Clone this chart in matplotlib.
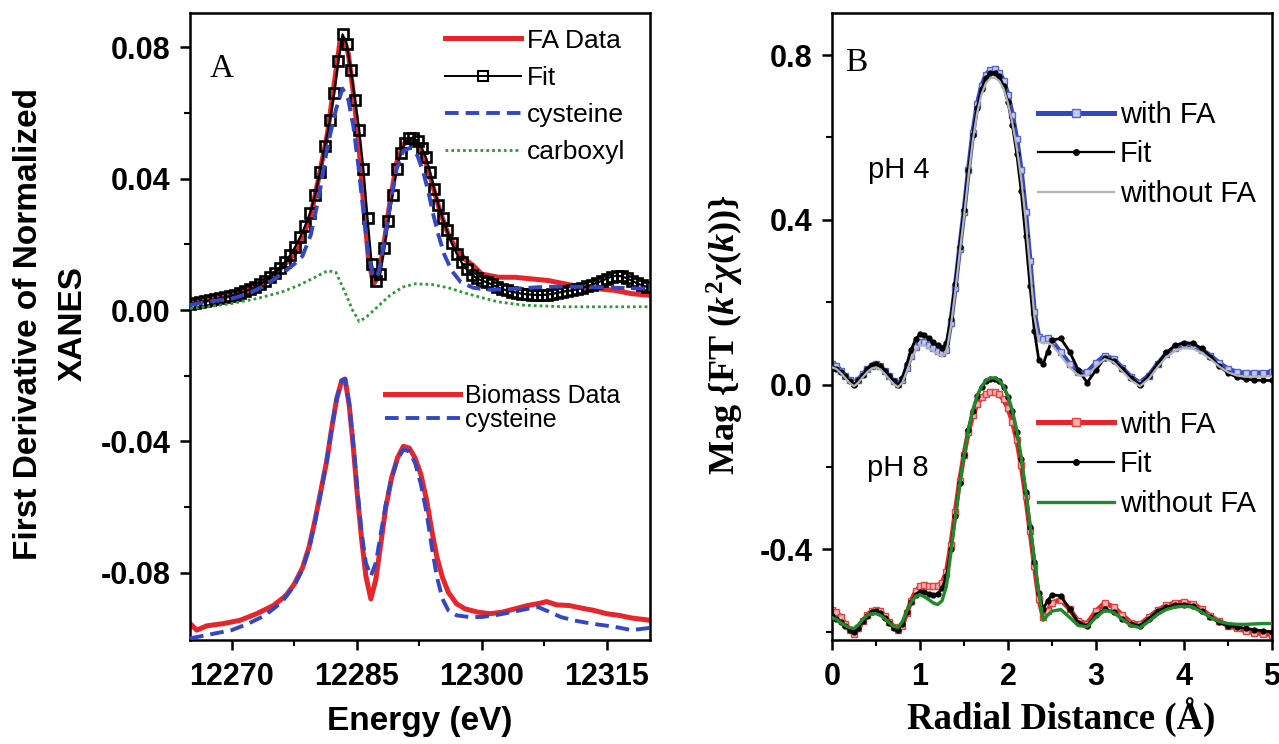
import matplotlib
matplotlib.use('Agg')
import matplotlib.pyplot as plt
from matplotlib.lines import Line2D

plt.rcParams['font.family'] = ['Liberation Sans', 'DejaVu Sans']
plt.rcParams['mathtext.fontset'] = 'custom'
plt.rcParams['mathtext.rm'] = 'Liberation Serif:bold'
plt.rcParams['mathtext.it'] = 'Liberation Serif:italic:bold'
plt.rcParams['mathtext.bf'] = 'Liberation Serif:bold'

# ---------------- panel A : XANES first derivative ----------------
fa_x = [12265.0, 12267, 12270, 12272, 12274, 12276, 12277.5, 12278.5, 12279.5, 12280.5,
        12281.5, 12282.3, 12283.0, 12283.5, 12284.0, 12284.6, 12285.2, 12285.8, 12286.4,
        12287.0, 12287.6, 12288.2, 12289.0, 12289.8, 12290.6, 12291.5, 12292.4, 12293.2,
        12294.0, 12295.0, 12296.0, 12297.0, 12298.0, 12299.0, 12300.0, 12302.0, 12304.0,
        12306.0, 12308.0, 12310.0, 12312.0, 12314.0, 12316.0, 12318.0, 12320.2]
fa_y = [.0020, .0030, .0045, .0060, .0085, .0130, .0170, .0220, .0290, .0410,
        .0540, .0690, .0820, .0825, .0780, .0660, .0520, .0330, .0160,
        .0080, .0100, .0190, .0330, .0450, .0505, .0520, .0505, .0460,
        .0390, .0300, .0230, .0185, .0155, .0135, .0110, .0100, .0100,
        .0095, .0090, .0080, .0070, .0065, .0060, .0050, .0045]

fit_x = [12265.0, 12265.6, 12266.2, 12266.8, 12267.4, 12268.0, 12268.6, 12269.2, 12269.8,
         12270.4, 12271.0, 12271.6, 12272.2, 12272.8, 12273.4, 12274.0, 12274.6, 12275.2,
         12275.8, 12276.4, 12277.0, 12277.6, 12278.2, 12278.8, 12279.4, 12280.0, 12280.6,
         12281.2, 12281.8, 12282.3, 12282.8, 12283.3, 12283.8, 12284.3, 12284.8, 12285.3,
         12285.8, 12286.3, 12286.8, 12287.3, 12287.8, 12288.3, 12288.8, 12289.3, 12289.8,
         12290.3, 12290.8, 12291.3, 12291.8, 12292.3, 12292.8, 12293.3, 12293.8, 12294.3,
         12294.8, 12295.3, 12295.8, 12296.4, 12297.0, 12297.6, 12298.2, 12298.8, 12299.4,
         12300.0, 12300.6, 12301.2, 12301.8, 12302.4, 12303.0, 12303.6, 12304.2, 12304.8,
         12305.4, 12306.0, 12306.6, 12307.2, 12307.8, 12308.4, 12309.0, 12309.6, 12310.2,
         12310.8, 12311.4, 12312.0, 12312.6, 12313.2, 12313.8, 12314.4, 12315.0, 12315.6,
         12316.2, 12316.8, 12317.4, 12318.0, 12318.6, 12319.2, 12319.8]
fit_y = [.0020, .0022, .0025, .0027, .0030, .0033, .0036, .0039, .0043,
         .0047, .0052, .0057, .0063, .0070, .0078, .0088, .0100, .0113,
         .0128, .0146, .0167, .0192, .0222, .0256, .0295, .0350, .0420,
         .0500, .0580, .0660, .0760, .0840, .0810, .0730, .0640, .0550,
         .0430, .0280, .0140, .0090, .0110, .0190, .0270, .0350, .0430,
         .0480, .0510, .0523, .0525, .0515, .0495, .0465, .0420, .0370,
         .0320, .0280, .0245, .0205, .0172, .0145, .0124, .0108, .0097,
         .0090, .0085, .0078, .0071, .0065, .0060, .0056, .0053, .0050,
         .0048, .0047, .0046, .0046, .0047, .0049, .0052, .0055, .0058,
         .0060, .0063, .0067, .0072, .0077, .0083, .0089, .0096, .0102,
         .0105, .0103, .0097, .0090, .0082, .0076, .0071]

cys_x = [12265.0, 12267, 12270, 12272, 12274, 12276, 12277.5, 12278.5, 12279.5, 12280.5,
         12281.5, 12282.5, 12283.3, 12284.0, 12284.6, 12285.2, 12285.8, 12286.4, 12287.0,
         12287.6, 12288.2, 12289.0, 12289.8, 12290.6, 12291.5, 12292.3, 12293.0, 12293.6,
         12294.2, 12294.8, 12295.5, 12296.4, 12297.5, 12299, 12301, 12304, 12307, 12310,
         12313, 12316, 12320.2]
cys_y = [.0015, .0025, .0035, .0050, .0075, .0110, .0140, .0165, .0230, .0350,
         .0500, .0610, .0675, .0640, .0560, .0440, .0300, .0170, .0100,
         .0110, .0190, .0320, .0430, .0485, .0495, .0470, .0420, .0360,
         .0290, .0230, .0170, .0120, .0085, .0068, .0062, .0065, .0070, .0072,
         .0070, .0068, .0065]

carb_x = [12265.0, 12267, 12270, 12273, 12276, 12278, 12280, 12281.5, 12282.5, 12283.5,
          12284.5, 12285.3, 12286.2, 12287.5, 12289, 12290.5, 12292, 12294, 12296, 12298,
          12300, 12302, 12305, 12310, 12315, 12320.2]
carb_y = [.0005, .0010, .0020, .0035, .0055, .0075, .0100, .0120, .0115, .0060,
          .0000, -.0035, -.0020, .0010, .0045, .0070, .0080, .0078, .0068, .0052,
          .0038, .0025, .0015, .0010, .0010, .0010]

bio_x = [12265.0, 12265.8, 12267.0, 12269.0, 12271.0, 12273.0, 12275.0, 12276.5, 12277.5,
         12278.5, 12279.3, 12280.0, 12280.7, 12281.4, 12282.0, 12282.6, 12283.2, 12283.6,
         12284.1, 12284.6, 12285.1, 12285.6, 12286.1, 12286.7, 12287.3, 12287.9, 12288.5,
         12289.2, 12289.9, 12290.6, 12291.3, 12292.0, 12292.7, 12293.4, 12294.0, 12294.6,
         12295.3, 12296.0, 12297.0, 12298.0, 12299.5, 12301.0, 12302.5, 12304.0, 12305.5,
         12307.0, 12307.8, 12309.0, 12310.5, 12312.0, 12313.5, 12315.0, 12316.5, 12318.0,
         12320.2]
bio_y = [-.0955, -.0975, -.0962, -.0955, -.0945, -.0925, -.0900, -.0870, -.0835,
         -.0785, -.0720, -.0640, -.0550, -.0460, -.0360, -.0270, -.0215, -.0210,
         -.0290, -.0420, -.0570, -.0700, -.0810, -.0880, -.0820, -.0710, -.0600,
         -.0510, -.0450, -.0415, -.0420, -.0450, -.0500, -.0580, -.0670, -.0750,
         -.0815, -.0860, -.0895, -.0910, -.0920, -.0925, -.0920, -.0910, -.0900,
         -.0893, -.0888, -.0898, -.0900, -.0908, -.0915, -.0925, -.0930, -.0938,
         -.0945]

bcys_x = [12265.0, 12266.0, 12268.0, 12270.0, 12272.0, 12274.0, 12276.0, 12277.5, 12278.5,
          12279.3, 12280.0, 12280.7, 12281.4, 12282.0, 12282.6, 12283.2, 12283.6, 12284.1,
          12284.6, 12285.1, 12285.6, 12286.1, 12286.7, 12287.3, 12287.9, 12288.5, 12289.2,
          12289.9, 12290.6, 12291.3, 12292.0, 12292.7, 12293.4, 12294.0, 12294.6, 12295.3,
          12296.0, 12297.0, 12298.5, 12300.0, 12302.0, 12304.0, 12305.5, 12306.8, 12308.0,
          12309.5, 12311.0, 12312.5, 12314.0, 12316.0, 12318.0, 12320.2]
bcys_y = [-.1000, -.0995, -.0985, -.0975, -.0955, -.0930, -.0890, -.0840, -.0790,
          -.0725, -.0645, -.0555, -.0460, -.0360, -.0270, -.0215, -.0210, -.0285,
          -.0410, -.0550, -.0680, -.0770, -.0810, -.0770, -.0680, -.0590, -.0510,
          -.0455, -.0425, -.0430, -.0465, -.0530, -.0620, -.0720, -.0810, -.0880,
          -.0915, -.0930, -.0935, -.0935, -.0928, -.0918, -.0910, -.0905, -.0918,
          -.0935, -.0945, -.0952, -.0958, -.0965, -.0975, -.0968]

# ---------------- panel B : Fourier transform magnitude ----------------
r = [0.00, 0.05, 0.10, 0.15, 0.20, 0.25, 0.30, 0.35, 0.40, 0.45, 0.50, 0.55, 0.60, 0.65,
     0.70, 0.75, 0.80, 0.85, 0.90, 0.95, 1.00, 1.05, 1.10, 1.15, 1.20, 1.25, 1.30, 1.35,
     1.40, 1.45, 1.50, 1.55, 1.60, 1.65, 1.70, 1.75, 1.80, 1.85, 1.90, 1.95, 2.00, 2.05,
     2.10, 2.15, 2.20, 2.25, 2.30, 2.35, 2.40, 2.45, 2.50, 2.6, 2.7, 2.8, 2.9, 3.0, 3.1,
     3.2, 3.3, 3.4, 3.5, 3.6, 3.7, 3.8, 3.9, 4.0, 4.1, 4.2, 4.3, 4.4, 4.5, 4.6, 4.7, 4.8,
     4.9, 5.0]

ph4_with = [.050, .045, .034, .022, .010, .003, .012, .025, .037, .046, .049, .044, .033, .020,
            .009, .001, .012, .040, .070, .092, .104, .103, .096, .089, .082, .077, .085, .150,
            .235, .330, .420, .520, .610, .680, .725, .752, .764, .765, .757, .738, .703, .655,
            .595, .520, .420, .300, .175, .115, .110, .112, .105, .078, .050, .030, .030, .052,
            .070, .062, .040, .018, .004, .022, .050, .075, .090, .097, .095, .085, .070, .052,
            .038, .030, .028, .028, .029, .030]
ph4_fit = [.040, .038, .030, .020, .008, .000, .010, .024, .037, .047, .050, .045, .034, .020,
           .008, -.002, .015, .050, .085, .110, .122, .120, .112, .103, .095, .090, .100, .160,
           .245, .335, .425, .520, .605, .672, .718, .745, .756, .757, .748, .725, .685, .630,
           .560, .470, .360, .240, .130, .060, .050, .080, .108, .112, .080, .035, .005, .035,
           .065, .058, .038, .016, .000, .020, .050, .078, .095, .102, .100, .088, .068, .045,
           .028, .018, .013, .011, .010, .010]
ph4_without = [.042, .038, .028, .016, .004, -.004, .005, .018, .030, .039, .042, .037, .026,
               .013, .002, -.006, .005, .032, .062, .084, .096, .095, .088, .081, .074, .069,
               .078, .140, .225, .318, .408, .505, .592, .660, .705, .732, .744, .745, .737,
               .718, .683, .635, .575, .500, .402, .285, .165, .105, .100, .102, .096, .070,
               .042, .022, .022, .044, .062, .054, .032, .010, -.004, .014, .042, .067, .082,
               .089, .087, .077, .062, .044, .030, .022, .019, .019, .019, .020]

ph8_with = [-.548, -.552, -.565, -.580, -.595, -.605, -.592, -.575, -.560, -.550, -.546, -.550,
            -.562, -.576, -.588, -.595, -.585, -.555, -.525, -.502, -.490, -.487, -.488, -.488,
            -.488, -.482, -.455, -.390, -.310, -.235, -.170, -.115, -.075, -.047, -.030, -.022,
            -.019, -.019, -.024, -.036, -.058, -.090, -.135, -.195, -.270, -.355, -.440, -.520,
            -.565, -.550, -.530, -.522, -.545, -.575, -.580, -.550, -.530, -.540, -.560, -.578,
            -.582, -.565, -.548, -.536, -.530, -.528, -.532, -.545, -.562, -.575, -.585, -.592,
            -.598, -.602, -.605, -.607]
ph8_fit = [-.562, -.568, -.577, -.586, -.595, -.600, -.590, -.575, -.562, -.553, -.550, -.555,
           -.566, -.578, -.590, -.595, -.580, -.552, -.527, -.510, -.503, -.503, -.508, -.510,
           -.508, -.495, -.465, -.400, -.320, -.240, -.170, -.110, -.063, -.028, -.005, .008,
           .014, .014, .008, -.006, -.030, -.065, -.115, -.180, -.260, -.345, -.430, -.505,
           -.545, -.525, -.510, -.513, -.545, -.578, -.585, -.560, -.545, -.552, -.570, -.582,
           -.585, -.568, -.550, -.540, -.535, -.534, -.537, -.550, -.565, -.577, -.585, -.588,
           -.592, -.595, -.598, -.600]
ph8_without = [-.566, -.570, -.578, -.585, -.590, -.592, -.583, -.570, -.560, -.556, -.556,
               -.560, -.568, -.578, -.587, -.590, -.575, -.550, -.528, -.514, -.510, -.515,
               -.522, -.530, -.534, -.525, -.490, -.410, -.325, -.245, -.172, -.110, -.062,
               -.027, -.004, .010, .016, .016, .010, -.004, -.028, -.063, -.112, -.175, -.255,
               -.340, -.425, -.505, -.572, -.560, -.550, -.546, -.565, -.585, -.588, -.565,
               -.548, -.553, -.570, -.585, -.590, -.575, -.558, -.546, -.540, -.538, -.540,
               -.552, -.565, -.575, -.580, -.582, -.582, -.581, -.580, -.580]

red = '#e8262a'
blue = '#3346c4'
green = '#2a9a35'

fig = plt.figure(figsize=(12.79, 7.44), dpi=100)
axA = fig.add_axes([0.1486, 0.1398, 0.3596, 0.8427])
axB = fig.add_axes([0.6505, 0.1398, 0.3440, 0.8427])


def style_axis(ax):
    for sp in ax.spines.values():
        sp.set_linewidth(1.8)
    ax.tick_params(which='major', direction='out', length=7, width=1.8, pad=7,
                   top=False, right=False)
    ax.tick_params(which='minor', direction='out', length=4.5, width=1.5, top=False, right=False)
    ax.tick_params(axis='x', which='major', pad=9)
    for lab in ax.get_xticklabels() + ax.get_yticklabels():
        lab.set_fontweight('bold')
        lab.set_fontsize(22)


# --- A ---
axA.plot(fa_x, fa_y, color=red, lw=3.6, zorder=2)
axA.plot(fit_x, fit_y, color='black', lw=1.6, marker='s', ms=7.2, mfc='none',
         mec='black', mew=1.9, zorder=3)
axA.plot(cys_x, cys_y, color=blue, lw=2.8, ls=(0, (3.5, 1.8)), zorder=4)
axA.plot(carb_x, carb_y, color=green, lw=2.0, ls=(0, (1, 1.1)), zorder=4)
axA.plot(bio_x, bio_y, color=red, lw=3.6, zorder=2)
axA.plot(bcys_x, bcys_y, color=blue, lw=2.8, ls=(0, (3.5, 1.8)), zorder=3)

axA.set_xlim(12265.0, 12320.2)
axA.set_ylim(-0.1005, 0.0905)
axA.set_xticks([12270, 12285, 12300, 12315])
axA.set_xticks([12277.5, 12292.5, 12307.5], minor=True)
axA.set_yticks([-0.08, -0.04, 0.0, 0.04, 0.08])
axA.set_yticks([-0.06, -0.02, 0.02, 0.06], minor=True)
axA.set_yticklabels(['-0.08', '-0.04', '0.00', '0.04', '0.08'])
style_axis(axA)
axA.text(0.043, 0.935, 'A', transform=axA.transAxes, family='Liberation Serif',
         fontsize=24, va='top', ha='left')

hA = [Line2D([], [], color=red, lw=3.6),
      Line2D([], [], color='black', lw=1.4, marker='s', ms=6.5, mfc='none', mew=1.5),
      Line2D([], [], color=blue, lw=2.8, ls=(0, (3.5, 1.8))),
      Line2D([], [], color=green, lw=2.0, ls=(0, (1, 1.1)))]
legA = axA.legend(hA, ['FA Data', 'Fit', 'cysteine', 'carboxyl'], loc='upper left',
                  bbox_to_anchor=(0.554, 0.975), frameon=False, fontsize=19,
                  handlelength=2.9, handletextpad=0.2, labelspacing=0.5,
                  borderpad=0, borderaxespad=0, numpoints=1)
axA.add_artist(legA)
hA2 = [Line2D([], [], color=red, lw=3.6),
       Line2D([], [], color=blue, lw=2.8, ls=(0, (3.5, 1.8)))]
axA.legend(hA2, ['Biomass Data', 'cysteine'], loc='upper left',
           bbox_to_anchor=(0.424, 0.408), frameon=False, fontsize=18,
           handlelength=3.0, handletextpad=0.2, labelspacing=0.0,
           borderpad=0, borderaxespad=0)

# --- B ---
axB.plot(r, ph4_with, color=blue, lw=3.6, marker='s', ms=5, mfc='#c5c9f0', mec='#5566cc',
         mew=1.0, zorder=2)
axB.plot(r, ph4_fit, color='black', lw=2.0, marker='o', ms=3.5, mfc='black', mec='black',
         zorder=3)
axB.plot(r, ph4_without, color='#b4b4b4', lw=1.6, zorder=4)
axB.plot(r, ph8_with, color=red, lw=3.6, marker='s', ms=5, mfc='#f5b0b0', mec='#e84040',
         mew=1.0, zorder=2)
axB.plot(r, ph8_fit, color='black', lw=2.0, marker='o', ms=3.5, mfc='black', mec='black',
         zorder=3)
axB.plot(r, ph8_without, color='#1e8a2a', lw=2.4, zorder=4)

axB.set_xlim(0, 5)
axB.set_ylim(-0.62, 0.902)
axB.set_xticks([0, 1, 2, 3, 4, 5])
axB.set_xticks([0.5, 1.5, 2.5, 3.5, 4.5], minor=True)
axB.set_yticks([-0.4, 0.0, 0.4, 0.8])
axB.set_yticks([-0.6, -0.2, 0.2, 0.6], minor=True)
axB.set_yticklabels(['-0.4', '0.0', '0.4', '0.8'])
style_axis(axB)
axB.text(0.03, 0.945, 'B', transform=axB.transAxes, family='Liberation Serif',
         fontsize=24, va='top', ha='left')
axB.text(0.082, 0.749, 'pH 4', transform=axB.transAxes, fontsize=21, va='center', ha='left')
axB.text(0.080, 0.275, 'pH 8', transform=axB.transAxes, fontsize=21, va='center', ha='left')

hB4 = [Line2D([], [], color=blue, lw=3.6, marker='s', ms=6, mfc='#c5c9f0', mec='#5566cc'),
       Line2D([], [], color='black', lw=1.6, marker='o', ms=4, mfc='black'),
       Line2D([], [], color='#b4b4b4', lw=1.6)]
legB = axB.legend(hB4, ['with FA', 'Fit', 'without FA'], loc='upper left',
                  bbox_to_anchor=(0.468, 0.86), frameon=False, fontsize=21,
                  handlelength=2.6, handletextpad=0.2, labelspacing=0.4,
                  borderpad=0, borderaxespad=0, numpoints=1)
axB.add_artist(legB)
hB8 = [Line2D([], [], color=red, lw=3.6, marker='s', ms=6, mfc='#f5b0b0', mec='#e84040'),
       Line2D([], [], color='black', lw=1.6, marker='o', ms=4, mfc='black'),
       Line2D([], [], color='#1e8a2a', lw=2.4)]
axB.legend(hB8, ['with FA', 'Fit', 'without FA'], loc='upper left',
           bbox_to_anchor=(0.468, 0.366), frameon=False, fontsize=21,
           handlelength=2.6, handletextpad=0.2, labelspacing=0.4,
           borderpad=0, borderaxespad=0, numpoints=1)

# axis titles
fig.text(0.022, 0.565, 'First Derivative of Normalized', rotation=90, ha='center',
         va='center', fontsize=24, fontweight='bold')
fig.text(0.057, 0.565, 'XANES', rotation=90, ha='center', va='center',
         fontsize=24, fontweight='bold')
fig.text(0.328, 0.030, 'Energy (eV)', ha='center', va='center', fontsize=24,
         fontweight='bold')
fig.text(0.567, 0.55, r'Mag {FT ($k^2\chi(k)$)}', rotation=90, ha='center', va='center',
         fontsize=26, fontweight='bold', family='Liberation Serif')
fig.text(0.830, 0.036, 'Radial Distance (Å)', ha='center', va='center', fontsize=26.5,
         fontweight='bold', family='Liberation Serif')

fig.savefig('out.png', dpi=100)
